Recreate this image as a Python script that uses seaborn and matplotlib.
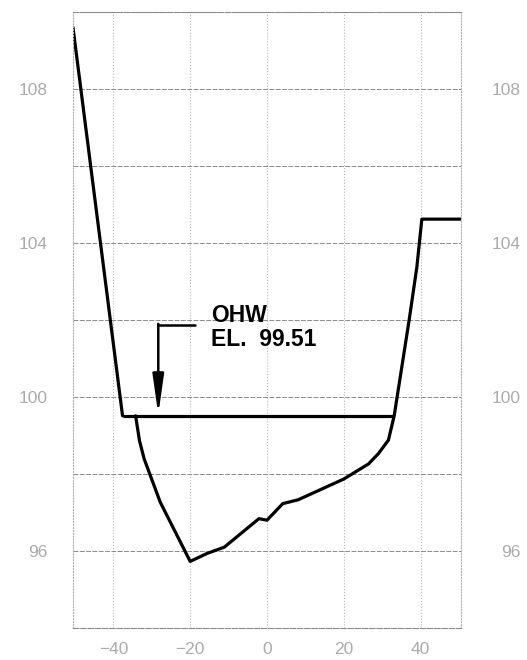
"""
Channel cross-section with ordinary high water (OHW) elevation.
Outputs: out.png
"""
import matplotlib
matplotlib.use("Agg")
import matplotlib.pyplot as plt
import pandas as pd
import seaborn as sns

# left bank above the OHW line
bank_x = [-50.5, -37.6]
bank_y = [109.6, 99.51]

# channel bed + right bank + right overbank
bed_x = [-34.2, -33.2, -32.0, -27.8, -20.0, -15.5, -11.1, -2.1, 0.0, 4.1, 8.1,
         20.0, 26.4, 29.0, 31.6, 33.1, 37.0, 39.0, 40.3, 50.5]
bed_y = [99.51, 98.87, 98.40, 97.27, 95.73, 95.94, 96.10, 96.84, 96.80, 97.23,
         97.33, 97.87, 98.26, 98.53, 98.88, 99.51, 102.00, 103.37, 104.62, 104.62]

# OHW water surface
ohw_el = 99.51
ohw_x = [-37.6, 33.1]

x_ticks = [-40, -20, 0, 20, 40]
y_ticks = [96, 100, 104, 108]
y_grid = [94, 96, 98, 100, 102, 104, 106, 108, 110]

LABEL_GRAY = "#ababab"

sns.set_style("white")
plt.rcParams["font.family"] = ["Liberation Sans", "DejaVu Sans"]

fig = plt.figure(figsize=(5.27, 6.6), dpi=100)
ax = fig.add_axes([0.1385, 0.0485, 0.7363, 0.9333])

bank = pd.DataFrame({"x": bank_x, "y": bank_y})
bed = pd.DataFrame({"x": bed_x, "y": bed_y})
sns.lineplot(data=bank, x="x", y="y", sort=False, estimator=None,
             color="black", lw=2.3, ax=ax)
sns.lineplot(data=bed, x="x", y="y", sort=False, estimator=None,
             color="black", lw=2.3, ax=ax)
ax.plot(ohw_x, [ohw_el, ohw_el], color="black", lw=2.3, solid_capstyle="butt")

# leader + arrow to the water surface
ax.plot([-18.7, -28.3], [101.87, 101.87], color="black", lw=1.8)
ax.annotate("", xy=(-28.3, ohw_el + 0.03), xytext=(-28.3, 101.9),
            arrowprops=dict(arrowstyle="-|>,head_length=1.2,head_width=0.17",
                            mutation_scale=20, color="black", lw=1.8,
                            shrinkA=0, shrinkB=0))
ax.text(-14.6, 101.95, "OHW", fontsize=16.5, fontweight="bold",
        color="black", va="baseline", ha="left")
ax.text(-14.6, 101.33, f"EL.  {ohw_el:.2f}", fontsize=16.5, fontweight="bold",
        color="black", va="baseline", ha="left")

ax.set_xlim(-50.5, 50.5)
ax.set_ylim(94, 110)
ax.set_xticks(x_ticks)
ax.set_yticks(y_ticks)
ax.set_yticks(y_grid, minor=True)
ax.set_xlabel("")
ax.set_ylabel("")

ax.grid(axis="y", which="both", color="#8c8c8c", lw=0.7, ls=(0, (5, 1.5)))
ax.grid(axis="x", which="major", color="#b8b8b8", lw=0.8, ls=":")
ax.tick_params(which="both", length=0)
ax.tick_params(axis="y", pad=18, labelsize=12.5, labelcolor=LABEL_GRAY)
ax.tick_params(axis="x", pad=10, labelsize=12.5, labelcolor=LABEL_GRAY)

for side in ["top", "bottom"]:
    ax.spines[side].set_color("#8c8c8c")
    ax.spines[side].set_linewidth(0.8)
    ax.spines[side].set_linestyle((0, (5, 1.5)))
for side in ["left", "right"]:
    ax.spines[side].set_color("#b0b0b0")
    ax.spines[side].set_linewidth(0.8)
    ax.spines[side].set_linestyle(":")

# repeated elevation labels on the right, right-aligned at the page edge
tw = ax.twinx()
tw.set_ylim(ax.get_ylim())
tw.set_yticks(y_ticks)
tw.tick_params(length=0, pad=43, labelsize=12.5, labelcolor=LABEL_GRAY)
for lbl in tw.get_yticklabels():
    lbl.set_horizontalalignment("right")
for s in tw.spines.values():
    s.set_visible(False)

fig.savefig("out.png", dpi=100)
plt.close(fig)
